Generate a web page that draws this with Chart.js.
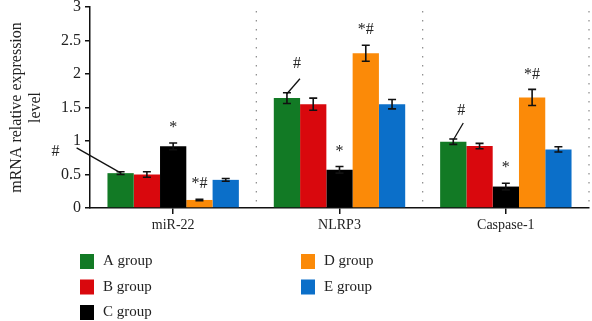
<!DOCTYPE html>
<html>
<head>
<meta charset="utf-8">
<script src="https://cdn.jsdelivr.net/npm/chart.js@4.4.0/dist/chart.umd.min.js"></script>
<style>
html, body { margin: 0; padding: 0; background: #fff; }
#wrap { width: 592px; height: 321px; }
</style>
</head>
<body>
<div id="wrap"><canvas id="chart"></canvas></div>
<script>
var genes = ["miR-22", "NLRP3", "Caspase-1"];
var groups = ["A group", "B group", "C group", "D group", "E group"];
var colors = ["#127a25", "#d9080d", "#000000", "#fb8a08", "#0b6fc9"];

// values per group, in gene order
var valuesA = [0.52, 1.64, 0.99];
var valuesB = [0.50, 1.55, 0.925];
var valuesC = [0.92, 0.57, 0.32];
var valuesD = [0.12, 2.31, 1.65];
var valuesE = [0.42, 1.55, 0.875];

// error bar half-lengths
var errA = [0.02, 0.08, 0.04];
var errB = [0.04, 0.09, 0.04];
var errC = [0.05, 0.05, 0.05];
var errD = [0.01, 0.12, 0.12];
var errE = [0.02, 0.07, 0.04];

// significance marks per group, in gene order
var marksA = ["#", "#", "#"];
var marksC = ["*", "*", "*"];
var marksD = ["*#", "*#", "*#"];

var yTicks = [0, 0.5, 1, 1.5, 2, 2.5, 3];

var allValues = [valuesA, valuesB, valuesC, valuesD, valuesE];
var allErr = [errA, errB, errC, errD, errE];
var allMarks = [marksA, null, marksC, marksD, null];

var serif = "'Liberation Serif', 'DejaVu Serif', serif";

// offsets of the "#" label and its leader line for group A (label dx,dy / line start dx,dy)
var leaderA = [
    { tx: -65, ty: -20, lx: -44, ly: -24 },
    { tx: 10, ty: -29, lx: 13, ly: -14 },
    { tx: 8, ty: -28, lx: 10, ly: -16 }
];

var extras = {
    id: "extras",
    afterDatasetsDraw: function(chart) {
        var ctx = chart.ctx;
        var ys = chart.scales.y;
        var xs = chart.scales.x;
        var area = chart.chartArea;
        ctx.save();

        // dotted separators between genes
        var half = (xs.getPixelForValue(1) - xs.getPixelForValue(0)) / 2;
        ctx.strokeStyle = "#8a8a8a";
        ctx.lineWidth = 1.2;
        ctx.setLineDash([1.5, 7.5]);
        for (let i = 0; i < genes.length; i++) {
            var bx = xs.getPixelForValue(i) + half;
            ctx.beginPath();
            ctx.moveTo(bx, area.top + 4);
            ctx.lineTo(bx, area.bottom);
            ctx.stroke();
        }
        ctx.setLineDash([]);

        // error bars
        ctx.strokeStyle = "#111";
        ctx.lineWidth = 1.6;
        for (let i = 0; i < allValues.length; i++) {
            var meta = chart.getDatasetMeta(i);
            for (let j = 0; j < genes.length; j++) {
                var bar = meta.data[j];
                var v = allValues[i][j];
                var e = allErr[i][j];
                var top = ys.getPixelForValue(v + e);
                var bot = ys.getPixelForValue(v - e);
                ctx.beginPath();
                ctx.moveTo(bar.x, top);
                ctx.lineTo(bar.x, bot);
                ctx.moveTo(bar.x - 4, top);
                ctx.lineTo(bar.x + 4, top);
                ctx.moveTo(bar.x - 4, bot);
                ctx.lineTo(bar.x + 4, bot);
                ctx.stroke();
            }
        }

        // significance marks
        ctx.fillStyle = "#222";
        ctx.font = "16px " + serif;
        ctx.textAlign = "center";
        ctx.textBaseline = "middle";
        ctx.lineWidth = 1.3;
        for (let i = 0; i < allMarks.length; i++) {
            if (!allMarks[i]) continue;
            var meta2 = chart.getDatasetMeta(i);
            for (let j = 0; j < genes.length; j++) {
                var b = meta2.data[j];
                var t = ys.getPixelForValue(allValues[i][j] + allErr[i][j]);
                if (i === 0) {
                    var o = leaderA[j];
                    ctx.fillText(allMarks[i][j], b.x + o.tx, t + o.ty);
                    ctx.beginPath();
                    ctx.moveTo(b.x + o.lx, t + o.ly);
                    ctx.lineTo(b.x, t + 1);
                    ctx.stroke();
                } else {
                    ctx.fillText(allMarks[i][j], b.x, t - 15);
                }
            }
        }

        // legend, two columns
        ctx.font = "15px " + serif;
        ctx.textAlign = "left";
        for (let i = 0; i < groups.length; i++) {
            var col = i < 3 ? 0 : 1;
            var row = i < 3 ? i : i - 3;
            var lx = col === 0 ? 80 : 301;
            var ly = 254 + row * 25.5;
            ctx.fillStyle = colors[i];
            ctx.fillRect(lx, ly, 14, 15);
            ctx.fillStyle = "#222";
            ctx.fillText(groups[i], lx + 23, ly + 7.5);
        }
        ctx.restore();
    }
};

var datasets = [];
for (let i = 0; i < groups.length; i++) {
    datasets.push({
        label: groups[i],
        data: allValues[i],
        backgroundColor: colors[i],
        borderWidth: 0,
        categoryPercentage: 0.79,
        barPercentage: 1.0
    });
}

const ctx = document.getElementById("chart").getContext("2d");
const myChart = new Chart(ctx, {
    type: "bar",
    data: { labels: genes, datasets: datasets },
    options: {
        responsive: true,
        maintainAspectRatio: false,
        animation: false,
        layout: { padding: { top: 7, right: 3, left: 0, bottom: 0 } },
        plugins: {
            legend: { display: false },
            tooltip: { enabled: false }
        },
        scales: {
            x: {
                afterFit: function(s) { s.height = 113; },
                grid: { offset: false, drawOnChartArea: false, tickLength: 6, color: "#111", lineWidth: 1.5 },
                border: { color: "#111", width: 1.5 },
                ticks: { color: "#222", font: { family: serif, size: 14 }, padding: 3 }
            },
            y: {
                min: 0,
                max: 3,
                afterFit: function(s) { s.width = 90; s.paddingTop = 0; s.paddingBottom = 0; },
                afterBuildTicks: function(s) { s.ticks = yTicks.map(function(v) { return { value: v }; }); },
                grid: { drawOnChartArea: false, tickLength: 5, color: "#111", lineWidth: 1.5 },
                border: { color: "#111", width: 1.5 },
                ticks: {
                    color: "#222",
                    font: { family: serif, size: 16 },
                    padding: 4,
                    callback: function(v) { return String(v); }
                },
                title: {
                    display: true,
                    text: ["mRNA relative expression", "level"],
                    color: "#222",
                    font: { family: serif, size: 16 },
                    padding: { top: 7, bottom: 0 }
                }
            }
        }
    },
    plugins: [extras]
});
</script>
</body>
</html>
